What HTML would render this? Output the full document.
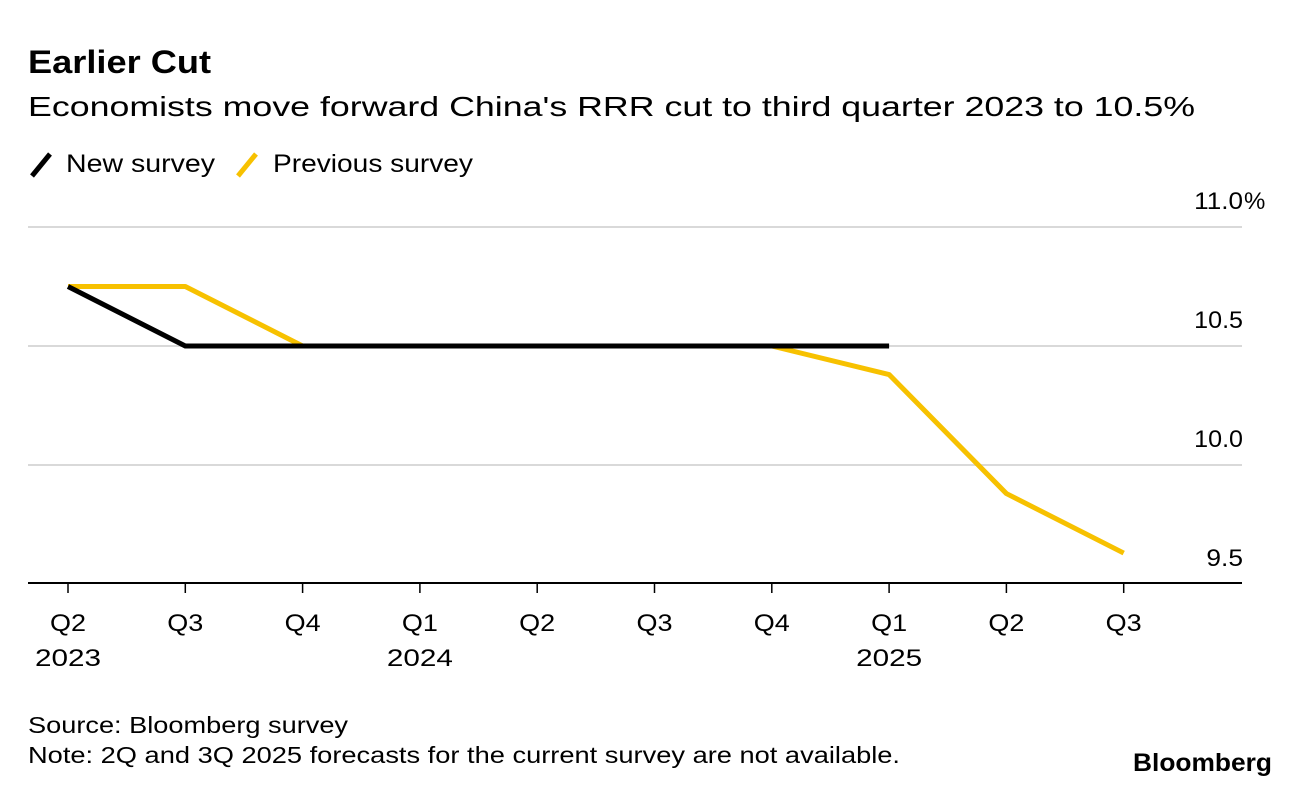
<!DOCTYPE html>
<html><head><meta charset="utf-8"><style>
body{margin:0;background:#fff;font-family:"Liberation Sans",Arial,sans-serif;}
svg text{font-family:"Liberation Sans",Arial,sans-serif;}
</style></head><body>
<svg id="chart" width="1296" height="794" viewBox="0 0 1296 794" xmlns="http://www.w3.org/2000/svg">
<text x="28" y="73" font-size="32" font-weight="bold" fill="#000" textLength="183" lengthAdjust="spacingAndGlyphs">Earlier Cut</text>
<text x="28" y="116" font-size="28" fill="#000" textLength="1167" lengthAdjust="spacingAndGlyphs">Economists move forward China's RRR cut to third quarter 2023 to 10.5%</text>
<g>
<line x1="32" y1="176" x2="50" y2="154" stroke="#000" stroke-width="5"/>
<text x="66" y="172" font-size="25" textLength="149" lengthAdjust="spacingAndGlyphs">New survey</text>
<line x1="238" y1="176" x2="256" y2="154" stroke="#f7c100" stroke-width="5"/>
<text x="273" y="172" font-size="25" textLength="200" lengthAdjust="spacingAndGlyphs">Previous survey</text>
</g>
<g id="grid"></g><g id="xaxis"></g><g id="series"></g>
<text x="28" y="733" font-size="23" textLength="320" lengthAdjust="spacingAndGlyphs">Source: Bloomberg survey</text>
<text x="28" y="763" font-size="23" textLength="872" lengthAdjust="spacingAndGlyphs">Note: 2Q and 3Q 2025 forecasts for the current survey are not available.</text>
<text x="1133" y="771" font-size="25" font-weight="bold" textLength="139" lengthAdjust="spacingAndGlyphs">Bloomberg</text>
</svg>
<script>
const categories=["Q2","Q3","Q4","Q1","Q2","Q3","Q4","Q1","Q2","Q3"];
const yearLabels=["2023","","","2024","","","","2025","",""];
const newSurvey=[10.75,10.5,10.5,10.5,10.5,10.5,10.5,10.5];
const previousSurvey=[10.75,10.75,10.5,10.5,10.5,10.5,10.5,10.38,9.88,9.63];
const yTicks=[11.0,10.5,10.0,9.5];
const yTickLabels=["11.0","10.5","10.0","9.5"];
const NS="http://www.w3.org/2000/svg";
function x(i){return 68+i*117.3;}
function y(v){return 227+(11-v)*238;}
function mk(tag,attrs,parent){const e=document.createElementNS(NS,tag);for(const k in attrs)e.setAttribute(k,attrs[k]);parent.appendChild(e);return e;}
const grid=document.getElementById('grid');
yTicks.forEach((v,i)=>{
 if(i<yTicks.length-1){const l=mk('line',{x1:28,x2:1242,y1:y(v),y2:y(v),stroke:'#d9d9d9','stroke-width':2},grid);
 
 }
 const lbl=yTickLabels[i];
 const t=mk('text',{x:1243,y:y(v)-18,'font-size':24,'text-anchor':'end',textLength:lbl.length*12.2,lengthAdjust:'spacingAndGlyphs'},grid);t.textContent=lbl;
 
 
 if(i===0){const p=mk('text',{x:1244,y:y(v)-18,'font-size':24},grid);p.textContent='%';
 
 }
});
const xa=document.getElementById('xaxis');
const ax=mk('line',{x1:28,x2:1242,y1:583,y2:583,stroke:'#000','stroke-width':2},xa);


categories.forEach((c,i)=>{
 const tk=mk('line',{x1:x(i),x2:x(i),y1:583,y2:593,stroke:'#000','stroke-width':1.5},xa);
 
 
 const t=mk('text',{x:x(i),y:631,'font-size':24,'text-anchor':'middle',textLength:36,lengthAdjust:'spacingAndGlyphs'},xa);t.textContent=c;
 
 
 if(yearLabels[i]){const yt=mk('text',{x:x(i),y:666,'font-size':24,'text-anchor':'middle',textLength:66,lengthAdjust:'spacingAndGlyphs'},xa);yt.textContent=yearLabels[i];
 
 }
});
const sg=document.getElementById('series');
function line(data,color,name){
 const p=mk('polyline',{points:data.map((v,i)=>x(i)+','+y(v)).join(' '),fill:'none',stroke:color,'stroke-width':5,'stroke-linejoin':'round'},sg);
 
 
}
line(previousSurvey,'#f7c100','previous-survey-line');
line(newSurvey,'#000','new-survey-line');
</script>
</body></html>
